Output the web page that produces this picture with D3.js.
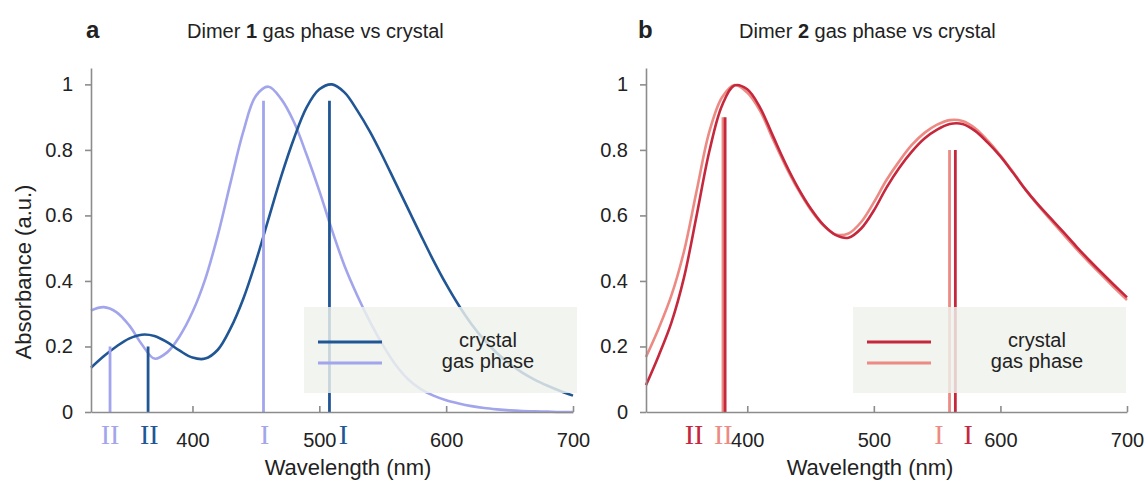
<!DOCTYPE html>
<html>
<head>
<meta charset="utf-8">
<script src="https://cdn.jsdelivr.net/npm/d3@7"></script>
<style>
  body { margin: 0; background: #fff; }
  text { font-family: "Liberation Sans", Arial, sans-serif; fill: #222; }
</style>
</head>
<body>
<div id="graphic-area"></div>
<script>
// absorbance spectra, every 10 nm
const wavelengths = [320, 330, 340, 350, 360, 370, 380, 390, 400, 410, 420, 430, 440, 450, 460, 470, 480, 490, 500,
                     510, 520, 530, 540, 550, 560, 570, 580, 590, 600, 610, 620, 630, 640, 650, 660, 670, 680, 690, 700];

const dimer1Crystal = [0.135, 0.17, 0.20, 0.224, 0.236, 0.232, 0.213, 0.187, 0.166, 0.163, 0.19, 0.255, 0.345, 0.46, 0.59, 0.72, 0.835, 0.93, 0.985,
                       1.0, 0.975, 0.92, 0.855, 0.78, 0.70, 0.62, 0.54, 0.462, 0.39, 0.325, 0.268, 0.22, 0.18, 0.147, 0.12, 0.098, 0.08, 0.064, 0.05];
const dimer1Gas = [0.31, 0.32, 0.305, 0.265, 0.207, 0.163, 0.182, 0.232, 0.305, 0.405, 0.54, 0.70, 0.855, 0.965, 0.993, 0.955, 0.885, 0.785, 0.675,
                   0.555, 0.445, 0.355, 0.275, 0.205, 0.145, 0.10, 0.07, 0.05, 0.036, 0.026, 0.018, 0.012, 0.008, 0.005, 0.003, 0.002, 0.001, 0.0, 0.0];

const dimer2Crystal = [0.082, 0.172, 0.272, 0.41, 0.60, 0.795, 0.935, 0.997, 0.985, 0.93, 0.845, 0.76, 0.685, 0.622, 0.572, 0.54, 0.532, 0.56, 0.615,
                       0.685, 0.745, 0.795, 0.835, 0.862, 0.879, 0.879, 0.858, 0.822, 0.78, 0.73, 0.678, 0.632, 0.59, 0.548, 0.505, 0.464, 0.425, 0.387, 0.35];
const dimer2Gas = [0.168, 0.255, 0.355, 0.49, 0.675, 0.855, 0.96, 0.998, 0.975, 0.92, 0.835, 0.753, 0.68, 0.618, 0.57, 0.542, 0.545, 0.58, 0.64,
                   0.708, 0.765, 0.815, 0.852, 0.877, 0.891, 0.888, 0.866, 0.828, 0.783, 0.732, 0.678, 0.63, 0.585, 0.541, 0.498, 0.457, 0.418, 0.379, 0.342];

// computed transitions (stick spectra)
const bandNames = ["II", "I"];
const dimer1CrystalSticks = [365, 508];
const dimer1CrystalHeights = [0.2, 0.95];
const dimer1CrystalLabelAt = [366, 519];
const dimer1GasSticks = [335, 456];
const dimer1GasHeights = [0.2, 0.95];
const dimer1GasLabelAt = [335, 457];

const dimer2CrystalSticks = [382.5, 564.4];
const dimer2CrystalHeights = [0.9, 0.8];
const dimer2CrystalLabelAt = [358, 574.5];
const dimer2GasSticks = [380.8, 559.8];
const dimer2GasHeights = [0.9, 0.8];
const dimer2GasLabelAt = [381, 551.5];

const xTicks = [400, 500, 600, 700];
const yTicks = [0, 0.2, 0.4, 0.6, 0.8, 1];
const yTickLabels = ["0", "0.2", "0.4", "0.6", "0.8", "1"];
const seriesNames = ["crystal", "gas phase"];

const w = 1146;
const h = 482;

const svg = d3.select("#graphic-area")
              .append("svg")
              .attr("width", w)
              .attr("height", h);

const panel = function(cfg) {
  const xScale = d3.scaleLinear()
                   .domain([320, 700])
                   .range([cfg.left, cfg.right]);
  const yScale = d3.scaleLinear()
                   .domain([0, 1.05])
                   .range([412, 68]);

  const g = svg.append("g");

  const line = d3.line()
                 .x((d, i) => xScale(wavelengths[i]))
                 .y((d) => yScale(d))
                 .curve(d3.curveCatmullRom.alpha(0.5));

  // spectra
  g.append("path")
   .attr("d", line(cfg.gas))
   .attr("fill", "none")
   .attr("stroke", cfg.gasColor)
   .attr("stroke-width", 2.6);
  g.append("path")
   .attr("d", line(cfg.crystal))
   .attr("fill", "none")
   .attr("stroke", cfg.crystalColor)
   .attr("stroke-width", 2.6);

  // sticks
  const sticks = function(pos, hts, color) {
    g.selectAll(null)
     .data(pos)
     .enter()
     .append("line")
     .attr("x1", (d) => xScale(d))
     .attr("x2", (d) => xScale(d))
     .attr("y1", yScale(0))
     .attr("y2", (d, i) => yScale(hts[i]))
     .attr("stroke", color)
     .attr("stroke-width", 2.8);
  };
  sticks(cfg.gasSticks, cfg.gasHeights, cfg.gasColor);
  sticks(cfg.crystalSticks, cfg.crystalHeights, cfg.crystalColor);

  // legend box sits over the curves, a bit see-through
  g.append("rect")
   .attr("x", cfg.left + cfg.legendDx)
   .attr("y", 307)
   .attr("width", 273)
   .attr("height", 86)
   .attr("fill", "#eef1ec")
   .attr("fill-opacity", 0.82);

  const legendColors = [cfg.crystalColor, cfg.gasColor];
  const legendY = [342, 363];
  g.selectAll(null)
   .data(seriesNames)
   .enter()
   .append("line")
   .attr("x1", cfg.left + cfg.legendDx + 14)
   .attr("x2", cfg.left + cfg.legendDx + 78)
   .attr("y1", (d, i) => legendY[i])
   .attr("y2", (d, i) => legendY[i])
   .attr("stroke", (d, i) => legendColors[i])
   .attr("stroke-width", 3);
  g.selectAll(null)
   .data(seriesNames)
   .enter()
   .append("text")
   .attr("x", cfg.left + cfg.legendDx + 184)
   .attr("y", (d, i) => legendY[i] + 5)
   .attr("text-anchor", "middle")
   .style("font-size", "20px")
   .text((d) => d);

  // roman labels under the axis
  const romans = function(at, color) {
    g.selectAll(null)
     .data(at)
     .enter()
     .append("text")
     .attr("x", (d) => xScale(d))
     .attr("y", 444)
     .attr("text-anchor", "middle")
     .style("font-family", "'Liberation Serif', 'Times New Roman', serif")
     .style("font-size", "28px")
     .style("fill", color)
     .text((d, i) => bandNames[i]);
  };
  romans(cfg.gasLabelAt, cfg.gasColor);
  romans(cfg.crystalLabelAt, cfg.crystalColor);

  // axes
  const xAxis = d3.axisBottom(xScale)
                  .tickValues(xTicks)
                  .tickSizeInner(-6)
                  .tickSizeOuter(0)
                  .tickPadding(21);
  const yAxis = d3.axisLeft(yScale)
                  .tickValues(yTicks)
                  .tickFormat((d, i) => yTickLabels[i])
                  .tickSizeInner(6)
                  .tickSizeOuter(0)
                  .tickPadding(12);

  const gx = g.append("g")
              .attr("transform", "translate(0, " + yScale(0) + ")")
              .call(xAxis);
  const gy = g.append("g")
              .attr("transform", "translate(" + cfg.left + ", 0)")
              .call(yAxis);
  [gx, gy].forEach(function(a) {
    a.selectAll("path, line").attr("stroke", "#8c8c8c").attr("stroke-width", 1.6);
    a.selectAll("text")
     .style("font-family", "'Liberation Sans', Arial, sans-serif")
     .style("font-size", "20px")
     .attr("fill", "#222");
  });

  g.append("text")
   .attr("x", cfg.xTitleX)
   .attr("y", 475)
   .attr("text-anchor", "middle")
   .style("font-size", "22px")
   .text("Wavelength (nm)");

  // panel letter and title
  g.append("text")
   .attr("x", cfg.letterX)
   .attr("y", 38)
   .style("font-size", "24px")
   .style("font-weight", "bold")
   .text(cfg.letter);
  const t = g.append("text")
             .attr("x", cfg.titleX)
             .attr("y", 38)
             .style("font-size", "20px");
  t.append("tspan").text("Dimer ");
  t.append("tspan").style("font-weight", "bold").text(cfg.dimer);
  t.append("tspan").text(" gas phase vs crystal");

  return g;
};

panel({
  left: 91, right: 573, legendDx: 213,
  crystal: dimer1Crystal, gas: dimer1Gas,
  crystalColor: "#215695", gasColor: "#a2a5ec",
  crystalSticks: dimer1CrystalSticks, crystalHeights: dimer1CrystalHeights, crystalLabelAt: dimer1CrystalLabelAt,
  gasSticks: dimer1GasSticks, gasHeights: dimer1GasHeights, gasLabelAt: dimer1GasLabelAt,
  xTitleX: 348, letter: "a", letterX: 86, titleX: 187, dimer: "1"
});

panel({
  left: 646, right: 1127, legendDx: 207,
  crystal: dimer2Crystal, gas: dimer2Gas,
  crystalColor: "#c5283d", gasColor: "#ec8a83",
  crystalSticks: dimer2CrystalSticks, crystalHeights: dimer2CrystalHeights, crystalLabelAt: dimer2CrystalLabelAt,
  gasSticks: dimer2GasSticks, gasHeights: dimer2GasHeights, gasLabelAt: dimer2GasLabelAt,
  xTitleX: 870, letter: "b", letterX: 638, titleX: 739, dimer: "2"
});

svg.append("text")
   .attr("transform", "translate(31, 272) rotate(-90)")
   .attr("text-anchor", "middle")
   .style("font-size", "22px")
   .text("Absorbance (a.u.)");
</script>
</body>
</html>
